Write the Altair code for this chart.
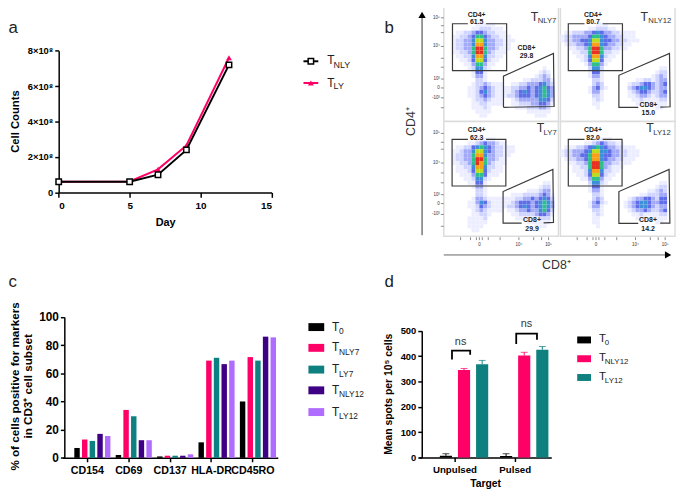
import altair as alt
import pandas as pd

FONT = "Liberation Sans"
OX = 8
OY = 8

# ---------- panel a ----------
days = [0, 5, 7, 9, 12]
t_nly = [6e7, 6e7, 1.0e8, 2.4e8, 7.2e8]
t_ly = [6e7, 6.2e7, 1.3e8, 2.65e8, 7.6e8]

# ---------- panel c ----------
markers = ["CD154", "CD69", "CD137", "HLA-DR", "CD45RO"]
c_series = ["T0", "TNLY7", "TLY7", "TNLY12", "TLY12"]
c_T0 = [7, 2, 1, 11, 40]
c_TNLY7 = [13, 34, 1.5, 69, 71.5]
c_TLY7 = [12, 29.5, 1.5, 71, 69]
c_TNLY12 = [17, 12.5, 1.5, 66.5, 86]
c_TLY12 = [15.5, 12.5, 2.5, 69, 85.5]
c_colors = ["#000000", "#ff0066", "#0e8080", "#3e0085", "#b06cff"]

# ---------- panel d ----------
targets = ["Unpulsed", "Pulsed"]
d_series = ["T0", "TNLY12", "TLY12"]
d_T0 = [7, 6]
d_TNLY12 = [345, 402]
d_TLY12 = [368, 425]
d_T0_err = [15, 15]
d_TNLY12_err = [351, 415]
d_TLY12_err = [383, 438]
d_colors = ["#000000", "#ff0066", "#0e8080"]

# ---------- panel b: density, 29 x 29 cells, level 0-9 ----------
P1 = [
"00000000000000000000000000000",
"00000000000000000000000000000",
"00000000000000000000000000000",
"00000000000000000000000000000",
"00000000111110000000000000000",
"00000001122211100000000000000",
"00011223443221110000000000000",
"00112234664322111000000000000",
"00122335775332211100000000000",
"00122335885332211000000000000",
"00122336996332111000000000000",
"00112236996321110000000000000",
"00011225885221100000000000000",
"00001124774211000000000000000",
"00000113663110000000000000000",
"00000012552100000000000001000",
"00000001441000000000000012100",
"00000001331000000000000123200",
"00000000221000000000112223310",
"00000001223211100112233345320",
"00000011234321111223343456430",
"00000011245321111234543456530",
"00000011234321112234443456530",
"00000001223211100123333355420",
"00000001122111100112223344310",
"00000001112100000011122233200",
"00000000111100000000011111100",
"00000000011000000000000111000",
"00000000000000000000000000000",
]
P2 = [
"00000000000000000000000000000",
"00000000000000000000000000000",
"00000000000000000000000000000",
"00000000000000000000000000000",
"00000000011100000000000000000",
"00000001122211000000000000000",
"01122233454332211110000000000",
"12233334665433221110000000000",
"12233445775443322111000000000",
"01223345885433221100000000000",
"00112236996332211000000000000",
"00011226996221100000000000000",
"00001125885211000000000000000",
"00000124774110000000000000000",
"00000013663100000000000000000",
"00000002552000000000000001100",
"00000001441000000000000012200",
"00000001331000000000000123200",
"00000000221000000001122123300",
"00000000232000000122344323400",
"00000001342100000234554323300",
"00000001331000000123443223400",
"00000000221000000112332123300",
"00000000121000000011211112200",
"00000000110000000001110111100",
"00000000010000000000000011000",
"00000000000000000000000000000",
"00000000000000000000000000000",
"00000000000000000000000000000",
]
P3 = [
"00000000000000000000000000000",
"00000000000000000000000000000",
"00000000000000000000000000000",
"00000000000000000000000000000",
"00000000111110000000000000000",
"00000011234332110000000000000",
"00011224565432211100000000000",
"00112335775432211100000000000",
"00122336885332211000000000000",
"00122336996332110000000000000",
"00112236986321110000000000000",
"00011225885221100000000000000",
"00011124774211100000000000000",
"00001113664111000000000000000",
"00000112552100000000000000000",
"00000011441000000000000001100",
"00000001331000000000000012200",
"00000000221000000000011123300",
"00000000221000000111222234310",
"00000001332111111122334345420",
"00000011354211111234443456530",
"00000011243211112234543456530",
"00000001232111101123343356420",
"00000001122100000112222344310",
"00000011112000000011111122200",
"00000011111000000000011111100",
"00000011110000000000000111000",
"00000001100000000000000000000",
"00000000000000000000000000000",
]
P4 = [
"00000000000000000000000000000",
"00000000000000000000000000000",
"00000000000000000000000000000",
"00000000000000000000000000000",
"00000000111110000000000000000",
"00000011234322110000000000000",
"01112234565433221110000000000",
"12233345775543322111000000000",
"12233446885443322111000000000",
"01223346885433221110000000000",
"00112236996332211100000000000",
"00011226996321110000000000000",
"00011125885221100000000000000",
"00001124774211000000000000000",
"00000113663110000000000000000",
"00000002552100000000000001100",
"00000001441000000000000012200",
"00000001331000000000001123200",
"00000000221000000000112223300",
"00000000232000000123344324400",
"00000001342100001234554334400",
"00000001331000001234554323300",
"00000000221000000123343223400",
"00000000121000000011211112200",
"00000000110000000001110111100",
"00000000110000000000000011000",
"00000000010000000000000000000",
"00000000000000000000000000000",
"00000000000000000000000000000",
]
levels = list("123456789")
level_colors = ["#eceeff", "#d0d5ff", "#a2aaf8", "#5f6ee8", "#3d8fd8", "#2fc08a", "#bcdc20", "#f8a018", "#e83020"]

flow = [
    ("P1", P1, 449, 4, (2.2, 15.9, 4.25, 16.1), [(15.1, 17.5), (27.75, 11.75), (27.9, 25.2), (15.1, 25.4)], False),
    ("P2", P2, 567, 4, (2.0, 15.7, 4.25, 16.1), [(14.8, 17.3), (27.6, 11.75), (27.75, 25.25), (14.8, 25.4)], True),
    ("P3", P3, 449, 120, (2.1, 15.7, 4.5, 16.3), [(15.0, 17.7), (27.6, 12.1), (27.75, 25.5), (15.0, 25.7)], True),
    ("P4", P4, 567, 120, (2.0, 15.6, 4.5, 16.3), [(14.8, 17.7), (27.5, 12.1), (27.7, 25.7), (14.8, 25.75)], True),
]

layers = []


def px(v):
    return v - OX


def py(v):
    return v - OY


def text(rows, size, bold=False, color="black", align="left", angle=0, opacity=1):
    df = pd.DataFrame([{"t": t, "x": px(x), "y": py(y)} for t, x, y in rows])
    return alt.Chart(df).mark_text(
        font=FONT, fontSize=size, fontWeight="bold" if bold else "normal", color=color,
        align=align, baseline="middle", angle=angle, opacity=opacity,
    ).encode(x=alt.X("x:Q", scale=None, axis=None), y=alt.Y("y:Q", scale=None, axis=None), text="t:N")


def path(points, width, color="black"):
    df = pd.DataFrame([{"x": px(x), "y": py(y), "o": i} for i, (x, y) in enumerate(points)])
    return alt.Chart(df).mark_line(stroke=color, strokeWidth=width, interpolate="linear").encode(
        x=alt.X("x:Q", scale=None, axis=None), y=alt.Y("y:Q", scale=None, axis=None), order="o:Q")


def boxes(rows, fill, stroke=None, sw=0):
    df = pd.DataFrame([{"x": px(a), "x2": px(b), "y": py(c), "y2": py(d)} for a, b, c, d in rows])
    kw = {"fill": fill}
    if stroke:
        kw.update(stroke=stroke, strokeWidth=sw)
    return alt.Chart(df).mark_rect(**kw).encode(
        x=alt.X("x:Q", scale=None, axis=None), x2="x2:Q",
        y=alt.Y("y:Q", scale=None, axis=None), y2="y2:Q")


def axis(orient, offset, **kw):
    return alt.Axis(
        orient=orient, offset=offset, grid=False, domainColor="black", tickColor="black",
        labelColor="black", labelFont=FONT, labelFontWeight="bold", titleFont=FONT,
        titleFontWeight="bold", titleColor="black", **kw)


H = 487
W = 677

# ---- panel a ----
ax = alt.Scale(domain=[0, 15], range=[px(59.3), px(274.7)], nice=False, zero=False)
ay = alt.Scale(domain=[0, 8e8], range=[py(191.7), py(48.3)], nice=False)
x_a = alt.X("day:Q", scale=ax, axis=axis(
    "bottom", -(H - py(191.7)), values=[0, 5, 10, 15], format="d", labelFontSize=10, domainWidth=1.5,
    tickWidth=1.5, tickSize=5, labelPadding=3, title="Day", titleFontSize=11, titlePadding=7, labelAngle=0))
y_a = alt.Y("v:Q", scale=ay, axis=axis(
    "left", -px(59.3), values=[0, 2e8, 4e8, 6e8, 8e8],
    labelExpr="datum.value == 0 ? '0' : (datum.value / 1e8) + '×10⁸'",
    labelFontSize=9.5, domainWidth=1.5, tickWidth=1.5, tickSize=4, labelPadding=2, title=None))
x_a_plain = alt.X("day:Q", scale=ax, axis=None)
y_a_plain = alt.Y("v:Q", scale=ay, axis=None)
df_ly = pd.DataFrame({"day": days, "v": t_ly})
df_nly = pd.DataFrame({"day": days, "v": t_nly})
layers += [
    alt.Chart(df_ly).mark_line(color="#ff0066", strokeWidth=2).encode(x=x_a, y=y_a),
    alt.Chart(df_ly).mark_point(shape="triangle-up", filled=True, color="#ff0066", size=35, opacity=1).encode(x=x_a_plain, y=y_a_plain),
    alt.Chart(df_nly).mark_line(color="black", strokeWidth=2).encode(x=x_a_plain, y=y_a_plain),
    alt.Chart(df_nly).mark_point(shape="square", filled=True, fill="white", stroke="black", strokeWidth=1.5, size=30, opacity=1).encode(x=x_a_plain, y=y_a_plain),
    text([("Cell  Counts", 16, 120)], 11.4, True, align="center", angle=270),
]
layers += [
    path([(307, 59), (322, 59)], 2),
    path([(307, 81), (322, 81)], 2, "#ff0066"),
    alt.Chart(pd.DataFrame({"x": [px(314.5)], "y": [py(59)]})).mark_point(shape="square", filled=True, fill="white", stroke="black", strokeWidth=1.5, size=30, opacity=1).encode(x=alt.X("x:Q", scale=None, axis=None), y=alt.Y("y:Q", scale=None, axis=None)),
    alt.Chart(pd.DataFrame({"x": [px(314.5)], "y": [py(81)]})).mark_point(shape="triangle-up", filled=True, color="#ff0066", size=35, opacity=1).encode(x=alt.X("x:Q", scale=None, axis=None), y=alt.Y("y:Q", scale=None, axis=None)),
    text([("T", 331, 58), ("T", 331, 81)], 12, color="#222222"),
    text([("NLY", 337.5, 62.5), ("LY", 337.5, 84.5)], 9, color="#222222"),
]

# ---- panel b ----
layers.append(boxes([(f[2], f[2] + 116, f[3], f[3] + 116) for f in flow], "white", "#dcdcdc", 1.5))
for name, grid, x0, y0, cd4, cd8, gap in flow:
    cells = []
    for r, row in enumerate(grid):
        for c, ch in enumerate(row):
            if ch != "0":
                cells.append({"c": c, "c2": c + 1, "r": r, "r2": r + 1, "lv": ch})
    sx = alt.Scale(domain=[0, 29], range=[px(x0), px(x0 + 116)], nice=False, zero=False)
    sy = alt.Scale(domain=[0, 29], range=[py(y0), py(y0 + 116)], nice=False, zero=False)
    cx = alt.X("c:Q", scale=sx, axis=None)
    cy = alt.Y("r:Q", scale=sy, axis=None)
    layers.append(alt.Chart(pd.DataFrame(cells)).mark_rect().encode(
        x=cx, x2="c2:Q", y=cy, y2="r2:Q",
        color=alt.Color("lv:N", scale=alt.Scale(domain=levels, range=level_colors), legend=None)))
    a, b, t, u = cd4
    gate1 = [(10.7, t), (b, t), (b, u), (a, u), (a, t), (6.1, t)]
    p, q, s, w = cd8
    if gap:
        gate2 = [(19.7, w[1]), (w[0], w[1]), (p[0], p[1]), (q[0], q[1]), (s[0], s[1]), (25.25, w[1] - 0.05)]
    else:
        gate2 = [w, p, q, s, w]
    for gate in (gate1, gate2):
        df = pd.DataFrame([{"c": g[0], "r": g[1], "o": i} for i, g in enumerate(gate)])
        layers.append(alt.Chart(df).mark_line(stroke="#3a3a3a", strokeWidth=1.2).encode(x=cx, y=cy, order="o:Q"))

layers += [
    text([("CD4+", 482.3, 12), ("CD4+", 600, 12), ("CD4+", 482.3, 128.7), ("CD4+", 600, 128.7),
          ("CD8+", 532.7, 46), ("CD8+", 656, 103), ("CD8+", 538.3, 220), ("CD8+", 655.7, 220)],
         7, True, "#222222", "center"),
    text([("61.5", 482.3, 19.6), ("80.7", 600, 19.6), ("62.3", 482.3, 137), ("82.0", 600, 137),
          ("29.8", 532.7, 53.6), ("15.0", 656, 111), ("29.9", 538.3, 228.7), ("14.2", 655.7, 228.7)],
         7, True, "#222222", "center"),
    text([("T", 537, 14.5), ("T", 648, 14.5), ("T", 543, 127), ("T", 654, 127)], 12.5, color="#333333"),
    text([("NLY7", 544, 18), ("NLY12", 656, 18), ("LY7", 550, 132), ("LY12", 661, 132)], 7.8, color="#333333"),
    text([("10⁵", 445, 15), ("10⁴", 445, 44), ("10³", 445, 77), ("0", 445, 86), ("-10³", 445, 96),
          ("10⁵", 445, 132), ("10⁴", 445, 162), ("10³", 445, 194), ("0", 445, 203), ("-10³", 445, 214)],
         4.5, color="#333333", align="right"),
    text([("0", 485, 245), ("10⁴", 525, 245), ("10⁵", 555, 245), ("0", 603, 245), ("10⁴", 643, 245), ("10⁵", 673, 245)],
         4.5, color="#333333", align="center"),
    # axes of the flow plots
    path([(427, 13), (427, 235)], 1, "#333333"),
    path([(449, 255), (675, 255)], 1, "#666666"),
    alt.Chart(pd.DataFrame({"x": [px(427)], "y": [py(12)]})).mark_point(shape="triangle-up", filled=True, color="black", size=55, opacity=1).encode(x=alt.X("x:Q", scale=None, axis=None), y=alt.Y("y:Q", scale=None, axis=None)),
    alt.Chart(pd.DataFrame({"x": [px(676)], "y": [py(255)]})).mark_point(shape="triangle-right", filled=True, color="black", size=55, opacity=1).encode(x=alt.X("x:Q", scale=None, axis=None), y=alt.Y("y:Q", scale=None, axis=None)),
    text([("CD4⁺", 416, 120)], 12.5, color="#333333", align="center", angle=270),
    text([("CD8⁺", 563, 265)], 12.5, color="#333333", align="center"),
]
# small scale ticks along the flow plots
tick_y = [15, 23, 30, 44, 56, 65, 77, 86, 96, 106, 132, 141, 148, 162, 172, 182, 194, 203, 214, 226]
tick_x = [466, 476, 482, 485, 488, 494, 506, 525, 540, 548, 555, 584, 594, 600, 603, 606, 612, 624, 643, 658, 666, 673]
df_ty = pd.DataFrame({"x": [px(446)] * len(tick_y), "x2": [px(449)] * len(tick_y), "y": [py(v) for v in tick_y]})
df_tx = pd.DataFrame({"y": [py(237)] * len(tick_x), "y2": [py(240)] * len(tick_x), "x": [px(v) for v in tick_x]})
layers += [
    alt.Chart(df_ty).mark_rule(color="#444444", strokeWidth=0.6).encode(x=alt.X("x:Q", scale=None, axis=None), x2="x2:Q", y=alt.Y("y:Q", scale=None, axis=None)),
    alt.Chart(df_tx).mark_rule(color="#444444", strokeWidth=0.6).encode(y=alt.Y("y:Q", scale=None, axis=None), y2="y2:Q", x=alt.X("x:Q", scale=None, axis=None)),
]

# ---- panel c ----
rows = []
for s, vals in zip(c_series, [c_T0, c_TNLY7, c_TLY7, c_TNLY12, c_TLY12]):
    for m, v in zip(markers, vals):
        rows.append({"marker": m, "series": s, "v": v})
layers.append(alt.Chart(pd.DataFrame(rows)).mark_bar(width=5.5).encode(
    x=alt.X("marker:N", sort=markers, scale=alt.Scale(domain=markers, range=[px(63.2), px(281)]), axis=axis(
        "bottom", -(H - py(460.3)), labelFontSize=10.8, domainWidth=1.5, tickWidth=1.5, tickSize=4,
        labelPadding=3, labelAngle=0, title=None, labelOverlap=False)),
    xOffset=alt.XOffset("series:N", sort=c_series, scale=alt.Scale(domain=c_series, range=[2.4, 41.2])),
    y=alt.Y("v:Q", scale=alt.Scale(domain=[0, 100], range=[py(460.3), py(317.7)], nice=False), axis=axis(
        "left", -px(65), values=[0, 20, 40, 60, 80, 100], labelFontSize=12, domainWidth=1.5, tickWidth=1.5, tickSize=4,
        labelPadding=2, title=None)),
    color=alt.Color("series:N", scale=alt.Scale(domain=c_series, range=c_colors), legend=None),
))
layers.append(text([("% of cells positive for markers", 15, 388), ("in CD3⁺ cell subset", 28, 388)], 11.8, True, align="center", angle=270))
legend_c_y = [328, 349, 371, 392, 414]
layers += [boxes([(312, 328, y - 4, y + 4)], col) for y, col in zip(legend_c_y, c_colors)]
layers += [
    text([("T", 336, y - 0.5) for y in legend_c_y], 12, color="#222222"),
    text([("0", 343, 332), ("NLY7", 343, 353), ("LY7", 343, 375), ("NLY12", 343, 396), ("LY12", 343, 418)], 8.5, color="#222222"),
]

# ---- panel d ----
rows = []
for s, vals, errs in zip(d_series, [d_T0, d_TNLY12, d_TLY12], [d_T0_err, d_TNLY12_err, d_TLY12_err]):
    for t, v, e in zip(targets, vals, errs):
        rows.append({"target": t, "series": s, "v": v, "e": e})
df_d = pd.DataFrame(rows)
sxd = alt.Scale(domain=targets, range=[px(423.8), px(557.8)])
sod = alt.Scale(domain=d_series, range=[6, 61])
syd = alt.Scale(domain=[0, 500], range=[py(460), py(331.7)], nice=False)
cold = alt.Color("series:N", scale=alt.Scale(domain=d_series, range=d_colors), legend=None)
x_d_plain = alt.X("target:N", sort=targets, scale=sxd, axis=None)
xo_d = alt.XOffset("series:N", sort=d_series, scale=sod)
layers += [
    alt.Chart(df_d).mark_rule(strokeWidth=1).encode(x=x_d_plain, xOffset=xo_d, y=alt.Y("v:Q", scale=syd, axis=None), y2="e:Q", color=cold),
    alt.Chart(df_d).mark_tick(size=7, thickness=1).encode(x=x_d_plain, xOffset=xo_d, y=alt.Y("e:Q", scale=syd, axis=None), color=cold),
    alt.Chart(df_d).mark_bar(width=12.3).encode(
        x=alt.X("target:N", sort=targets, scale=sxd, axis=axis(
            "bottom", -(H - py(460)), labelFontSize=9.8, domainWidth=1.5, tickWidth=1.5, tickSize=4,
            labelPadding=3, labelAngle=0, title="Target", titleFontSize=10.5, titlePadding=5)),
        xOffset=xo_d,
        y=alt.Y("v:Q", scale=syd, axis=axis(
            "left", -px(426.7), values=[0, 100, 200, 300, 400, 500], labelFontSize=9.5, domainWidth=1.5,
            tickWidth=1.5, tickSize=4, labelPadding=2, title=None)),
        color=cold),
    text([("Mean spots per 10⁵ cells", 394, 396)], 10.5, True, align="center", angle=270),
    path([(457.3, 360.7), (457.3, 351.7), (475.7, 351.7), (475.7, 356)], 1.8),
    path([(522.3, 345), (522.3, 334.7), (543.3, 334.7), (543.3, 340.7)], 1.8),
    text([("ns", 466, 342.7), ("ns", 532.7, 325)], 11, color="#333333", align="center"),
]
legend_d_y = [341, 360, 379]
layers += [boxes([(584, 598, y - 3.5, y + 3.5)], col) for y, col in zip(legend_d_y, d_colors)]
layers += [
    text([("T", 606, y - 0.5) for y in legend_d_y], 11.5, color="#222222"),
    text([("0", 612, 344.5), ("NLY12", 612, 363.5), ("LY12", 612, 382.5)], 8, color="#222222"),
]

# ---- panel letters ----
layers.append(text([("a", 8.5, 25), ("b", 389, 25), ("c", 8.5, 282), ("d", 389, 282)], 17, color="#222222"))

chart = alt.layer(*layers).resolve_scale(x="independent", y="independent", color="independent", xOffset="independent").resolve_axis(
    x="independent", y="independent"
).properties(
    width=W, height=H, padding=0, autosize=alt.AutoSizeParams(type="none", contains="content"), background="white"
).configure_view(strokeWidth=0)

chart.save("out.html", embed_options={"renderer": "svg", "actions": False})
